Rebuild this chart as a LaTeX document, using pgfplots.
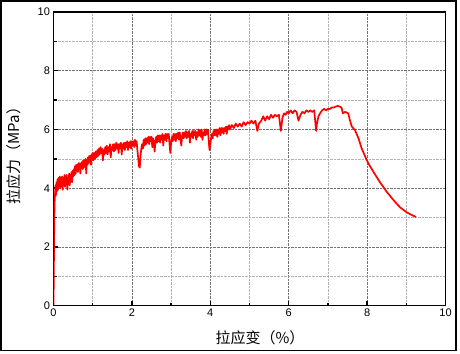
\documentclass[border=0pt]{standalone}
\usepackage{fontspec}
\setmainfont{Liberation Sans}
\newfontfamily\cjk{Noto Sans CJK SC}
\usepackage{pgfplots}
\pgfplotsset{compat=1.18}
\begin{document}
\begin{tikzpicture}[x=1bp,y=1bp]
\begin{axis}[at={(0,0)}, anchor=south west, scale only axis,
  width=392bp, height=293.7bp,
  xmin=0, xmax=10, ymin=0, ymax=10,
  xtick={0,2,...,10}, ytick={0,2,...,10},
  minor xtick={1,3,...,9}, minor ytick={1,3,...,9},
  tick align=inside, xtick pos=bottom, ytick pos=left,
  major tick length=4.5bp, minor tick length=3bp,
  every tick/.style={black, line width=1.5bp},
  axis line style={line width=1.5bp},
  grid=both,
  major grid style={densely dotted, black!55, line width=0.7bp},
  minor grid style={densely dotted, black!30, line width=0.7bp},
  tick label style={font=\fontsize{11bp}{13bp}\selectfont},
  /pgf/number format/assume math mode=true,
  xlabel={\cjk\fontsize{15bp}{17bp}\selectfont 拉应变（\%）},
  ylabel={\cjk\fontsize{15bp}{17bp}\selectfont 拉应力（MPa）},
  xlabel style={at={(axis description cs:0.527,-0.110)}, anchor=center},
  ylabel style={at={(axis description cs:-0.1008,0.523)}, anchor=center},
]
\addplot[red, line width=1.7bp, line join=round] coordinates {
(0,0) (0.01,1.5) (0.02,3.0) (0.03,3.6)
(0.04,3.8)(0.05,4.1)(0.06,3.75)(0.075,4.2)(0.09,3.9)(0.10,4.3)(0.115,3.95)(0.13,4.35)(0.145,4.05)(0.16,4.4)(0.175,4.0)(0.19,4.35)(0.205,4.1)(0.22,4.4)(0.235,3.95)(0.25,4.35)(0.265,4.15)(0.28,4.45)(0.295,4.05)(0.31,4.4)(0.325,4.2)(0.34,4.45)(0.355,3.95)(0.37,4.35)(0.385,4.2)(0.40,4.5)(0.415,4.1)(0.43,4.45)(0.445,4.25)(0.46,4.55)(0.475,4.2)(0.49,4.6)(0.505,4.4)(0.52,4.65)(0.535,4.45)(0.55,4.75)(0.565,4.5)(0.58,4.8)(0.595,4.6)(0.61,4.8)(0.625,4.55)(0.64,4.85)(0.655,4.65)(0.67,4.85)(0.685,4.5)(0.70,4.85)(0.715,4.7)(0.73,4.9)(0.745,4.65)(0.76,4.95)(0.775,4.7)(0.79,4.95)(0.805,4.75)(0.82,5.0)(0.835,4.5)(0.85,4.95)(0.865,4.8)(0.88,5.05)(0.895,4.85)(0.91,5.1)(0.925,4.9)(0.94,5.1)(0.955,4.8)(0.97,5.15)(0.985,4.95)
(1.00,5.2)(1.02,4.95)(1.04,5.2)(1.06,5.0)(1.08,5.25)(1.10,5.05)(1.12,5.3)(1.14,5.1)(1.16,5.35)(1.18,5.15)(1.20,5.4)(1.22,5.2)(1.24,5.35)(1.26,4.95)(1.28,5.3)(1.30,5.15)(1.32,5.4)(1.34,5.2)(1.36,5.45)(1.38,5.15)(1.40,5.4)(1.42,5.25)(1.44,5.5)(1.46,5.05)(1.48,5.4)(1.50,5.3)(1.52,5.5)(1.54,5.25)(1.56,5.5)(1.58,5.3)(1.60,5.55)(1.62,5.35)(1.64,5.5)(1.66,5.2)(1.68,5.5)(1.70,5.35)(1.72,5.55)(1.74,5.15)(1.76,5.5)(1.78,5.35)(1.80,5.55)(1.82,5.3)(1.84,5.55)(1.86,5.4)(1.88,5.6)(1.90,5.3)(1.92,5.55)(1.94,5.4)(1.96,5.6)(1.98,5.35)
(2.00,5.6)(2.02,5.45)(2.04,5.6)(2.06,5.4)(2.08,5.65)(2.10,5.45)(2.12,5.6)(2.14,5.3)(2.16,5.05)(2.18,4.75)(2.20,4.7)(2.22,5.1)(2.24,5.35)(2.26,5.5)(2.28,5.35)(2.30,5.65)(2.32,5.45)(2.34,5.7)(2.36,5.5)(2.38,5.7)(2.40,5.55)(2.42,5.75)(2.44,5.5)(2.46,5.75)(2.48,5.6)(2.50,5.75)(2.52,5.4)(2.54,5.7)(2.56,5.55)(2.58,5.25)(2.60,5.6)(2.62,5.75)(2.64,5.55)(2.66,5.8)(2.68,5.6)(2.70,5.8)(2.72,5.55)(2.74,5.8)(2.76,5.65)(2.78,5.85)(2.80,5.45)(2.82,5.8)(2.84,5.65)(2.86,5.85)(2.88,5.6)(2.90,5.85)(2.92,5.7)(2.94,5.85)(2.96,5.5)(2.98,5.2)
(3.00,5.55)(3.02,5.75)(3.04,5.6)(3.06,5.85)(3.08,5.65)(3.10,5.85)(3.12,5.6)(3.14,5.85)(3.16,5.7)(3.18,5.9)(3.20,5.65)(3.22,5.9)(3.24,5.7)(3.26,5.45)(3.28,5.75)(3.30,5.9)(3.32,5.7)(3.34,5.9)(3.36,5.75)(3.38,5.95)(3.40,5.7)(3.42,5.9)(3.44,5.75)(3.46,5.95)(3.48,5.55)(3.50,5.85)(3.52,5.75)(3.54,5.95)(3.56,5.7)(3.58,5.95)(3.60,5.8)(3.62,5.95)(3.64,5.65)(3.66,5.9)(3.68,5.75)(3.70,6.0)(3.72,5.8)(3.74,5.95)(3.76,5.75)(3.78,6.0)(3.80,5.65)(3.82,5.9)(3.84,5.8)(3.86,6.0)(3.88,5.8)(3.90,6.0)(3.92,5.85)(3.94,6.0)(3.96,5.6)(3.98,5.3)
(4.00,5.5)(4.02,5.7)(4.04,5.85)(4.06,5.7)(4.08,5.95)(4.10,5.8)(4.12,6.0)(4.14,5.8)(4.16,6.0)(4.18,5.75)(4.20,6.0)(4.22,5.85)(4.24,6.05)(4.26,5.8)(4.28,6.05)(4.30,5.9)(4.32,6.05)(4.34,5.85)(4.36,6.05)(4.38,5.95)(4.40,6.1)(4.42,5.85)(4.44,6.1)(4.46,6.0)(4.48,6.15)(4.50,6.0)
(4.55,6.15) (4.60,6.05) (4.65,6.2)
(4.70,6.1) (4.75,6.2) (4.80,6.1) (4.85,6.25) (4.90,6.15) (4.95,6.25) (5.00,6.2) (5.05,6.3)
(5.10,6.2) (5.15,6.3) (5.20,5.95) (5.24,6.2) (5.30,6.3) (5.35,6.45) (5.40,6.3) (5.45,6.45)
(5.50,6.35) (5.55,6.5) (5.60,6.4) (5.65,6.5) (5.70,6.45) (5.75,6.5) (5.80,5.95) (5.84,6.4)
(5.88,6.55) (5.92,6.5) (5.96,6.6) (6.00,6.55) (6.05,6.65) (6.10,6.55) (6.15,6.65) (6.20,6.6)
(6.25,6.3) (6.30,6.5) (6.35,6.6) (6.40,6.55) (6.45,6.65) (6.50,6.6) (6.55,6.65) (6.60,6.6)
(6.65,6.65) (6.70,5.95) (6.72,6.2) (6.76,6.45) (6.80,6.55) (6.85,6.65) (6.90,6.7) (6.95,6.65)
(7.00,6.7) (7.05,6.7) (7.10,6.75) (7.15,6.75) (7.20,6.78) (7.25,6.8) (7.30,6.78) (7.35,6.74)
(7.38,6.55) (7.44,6.6) (7.52,6.55) (7.56,6.32) (7.61,6.1) (7.69,5.98) (7.78,5.7) (7.86,5.36)
(7.97,5.02) (8.03,4.85) (8.16,4.56) (8.33,4.2) (8.50,3.88) (8.67,3.6) (8.84,3.35) (9.01,3.18)
(9.15,3.08) (9.25,3.02)
};
\end{axis}
\draw[line width=1.5bp] (-52.7,-45) rectangle (402.7,304.9);
\pgfresetboundingbox
\path[use as bounding box] (-53.5,-47.3) rectangle (406.5,305.7);
\end{tikzpicture}
\end{document}
